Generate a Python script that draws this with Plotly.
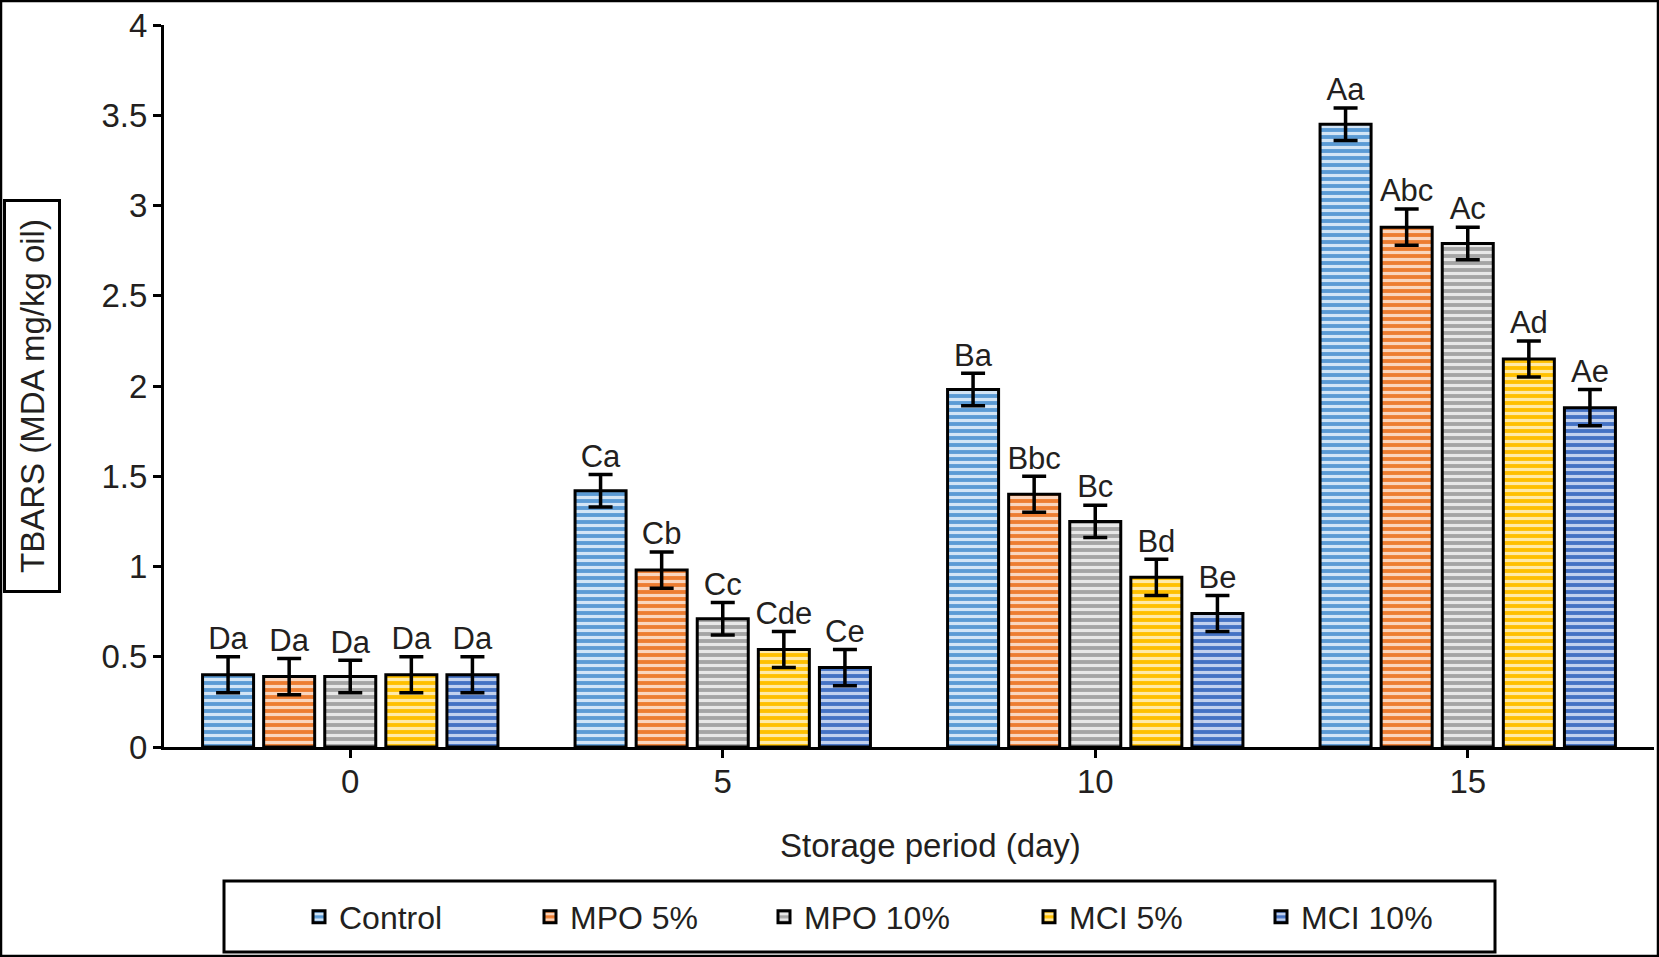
import plotly.graph_objects as go

# ---------------- data ----------------
days = ["0", "5", "10", "15"]
series_names = ["Control", "MPO 5%", "MPO 10%", "MCI 5%", "MCI 10%"]

control = [0.40, 1.42, 1.98, 3.45]
mpo5 = [0.39, 0.98, 1.40, 2.88]
mpo10 = [0.39, 0.71, 1.25, 2.79]
mci5 = [0.40, 0.54, 0.94, 2.15]
mci10 = [0.40, 0.44, 0.74, 1.88]

control_err = [0.10, 0.09, 0.09, 0.09]
mpo5_err = [0.10, 0.10, 0.10, 0.10]
mpo10_err = [0.09, 0.09, 0.09, 0.09]
mci5_err = [0.10, 0.10, 0.10, 0.10]
mci10_err = [0.10, 0.10, 0.10, 0.10]

control_letters = ["Da", "Ca", "Ba", "Aa"]
mpo5_letters = ["Da", "Cb", "Bbc", "Abc"]
mpo10_letters = ["Da", "Cc", "Bc", "Ac"]
mci5_letters = ["Da", "Cde", "Bd", "Ad"]
mci10_letters = ["Da", "Ce", "Be", "Ae"]

y_ticks = [0, 0.5, 1, 1.5, 2, 2.5, 3, 3.5, 4]

values = [control, mpo5, mpo10, mci5, mci10]
errors = [control_err, mpo5_err, mpo10_err, mci5_err, mci10_err]
letters = [control_letters, mpo5_letters, mpo10_letters, mci5_letters, mci10_letters]

# ---------------- style ----------------
base_colors = ["#5B9BD5", "#ED7D31", "#A5A5A5", "#FFC000", "#4472C4"]
stripe_colors = ["#D3E5F6", "#FAD6BE", "#E8E8E8", "#FFEAA8", "#C2D1EE"]
legend_widths = [186, 189, 220, 187, 150]

FONT = "Liberation Sans, Arial, Helvetica, sans-serif"
TXT = "#231F20"
W, H = 1659, 957
ML, MR, MT, MB = 164, 5, 25, 210
PW, PH = W - ML - MR, H - MT - MB


def px_x(x):
    return (x - ML) / PW


def px_y(y):
    return (H - MB - y) / PH


fig = go.Figure()

for i, name in enumerate(series_names):
    fig.add_trace(go.Bar(
        name=name,
        x=days,
        y=values[i],
        error_y=dict(type="data", array=errors[i], visible=True,
                     color="black", thickness=3.5, width=12),
        marker=dict(
            color=base_colors[i],
            line=dict(color="black", width=3),
            pattern=dict(shape="-", size=7, solidity=0.45,
                         fgcolor=stripe_colors[i], bgcolor=base_colors[i],
                         fillmode="replace"),
        ),
        legendwidth=legend_widths[i],
        hoverinfo="skip",
    ))

for i, name in enumerate(series_names):
    tops = [v + e for v, e in zip(values[i], errors[i])]
    fig.add_trace(go.Scatter(
        x=days,
        y=tops,
        mode="text",
        text=letters[i],
        textposition="top center",
        textfont=dict(size=31, color=TXT, family=FONT),
        showlegend=False,
        hoverinfo="skip",
        cliponaxis=False,
    ))

fig.update_layout(
    width=W, height=H,
    margin=dict(l=ML, r=MR, t=MT, b=MB, pad=0),
    paper_bgcolor="white",
    plot_bgcolor="white",
    barmode="group",
    bargap=0.18,
    bargroupgap=0.165,
    scattermode="group",
    scattergap=0.18,
    font=dict(family=FONT, size=32, color=TXT),
    showlegend=True,
    legend=dict(
        orientation="h",
        x=px_x(299), xanchor="left",
        y=px_y(917), yanchor="middle",
        font=dict(size=32, color=TXT, family=FONT),
        bgcolor="rgba(0,0,0,0)",
        borderwidth=0,
        traceorder="normal",
    ),
    xaxis=dict(
        type="category",
        range=[-0.5, 3.5],
        showline=True, linecolor="black", linewidth=3,
        ticks="outside", ticklen=8, tickwidth=3, tickcolor="black",
        tickfont=dict(size=33, color=TXT, family=FONT),
        ticklabelstandoff=-5,
        showgrid=False, zeroline=False,
        fixedrange=True,
    ),
    yaxis=dict(
        range=[0, 4],
        tickvals=y_ticks,
        showline=True, linecolor="black", linewidth=3,
        ticks="outside", ticklen=8, tickwidth=3, tickcolor="black",
        tickfont=dict(size=33, color=TXT, family=FONT),
        ticklabelstandoff=-1,
        showgrid=False, zeroline=False,
        fixedrange=True,
    ),
    annotations=[
        dict(
            text="Storage period (day)",
            xref="paper", yref="paper",
            x=px_x(930), y=px_y(846),
            xanchor="center", yanchor="middle",
            showarrow=False,
            font=dict(size=33, color=TXT, family=FONT),
        ),
        dict(
            text="TBARS (MDA mg/kg oil)",
            xref="paper", yref="paper",
            x=px_x(32), y=px_y(396),
            xanchor="center", yanchor="middle",
            showarrow=False,
            textangle=-90,
            width=384, height=48,
            bordercolor="black", borderwidth=3, borderpad=2,
            bgcolor="white",
            font=dict(size=33, color=TXT, family=FONT),
        ),
    ],
    shapes=[
        dict(type="rect", xref="paper", yref="paper",
             x0=px_x(224), x1=px_x(1495), y0=px_y(952), y1=px_y(881),
             line=dict(color="black", width=3), fillcolor="rgba(0,0,0,0)",
             layer="below"),
        dict(type="rect", xref="paper", yref="paper",
             x0=px_x(1), x1=px_x(W - 1), y0=px_y(H - 1), y1=px_y(1),
             line=dict(color="black", width=2.5), fillcolor="rgba(0,0,0,0)",
             layer="below"),
    ],
)

fig.write_html(
    "out.html",
    config={"displayModeBar": False, "staticPlot": True},
    post_script="document.body.style.margin='0';document.body.style.overflow='hidden';",
)
